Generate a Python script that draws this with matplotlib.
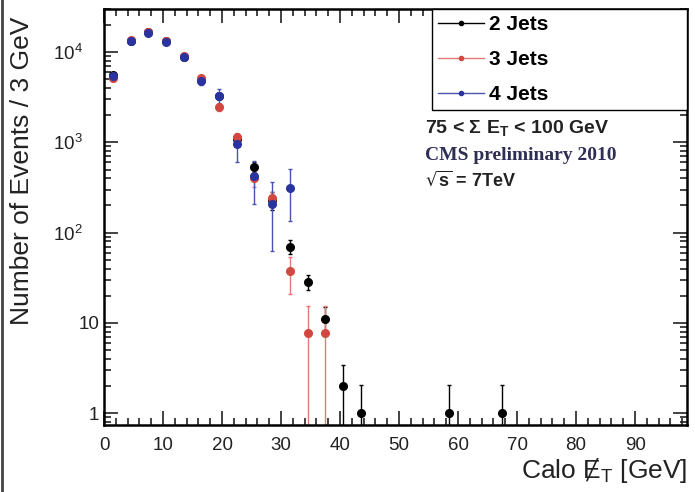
import numpy as np
import matplotlib.pyplot as plt
from matplotlib.ticker import MultipleLocator, FixedLocator, FixedFormatter, LogLocator, NullFormatter
from matplotlib.lines import Line2D

# 3 GeV bins, centres in GeV
x2 = [1.5, 4.5, 7.5, 10.5, 13.5, 16.5, 19.5, 22.5, 25.5, 28.5, 31.5, 34.5, 37.5, 40.5, 43.5, 58.5, 67.5]
y2 = [5600, 13200, 16500, 13200, 8800, 4900, 3300, 1100, 540, 230, 70, 28.5, 11, 2, 1, 1, 1]
lo2 = [300, 500, 600, 500, 400, 300, 250, 120, 70, 50, 12, 5.5, 3.5, 1.45, 0.99, 0.99, 0.99]
hi2 = [300, 500, 600, 500, 400, 300, 250, 120, 70, 50, 12, 5.5, 4.0, 1.45, 1.05, 1.05, 1.05]

x3 = [1.5, 4.5, 7.5, 10.5, 13.5, 16.5, 19.5, 22.5, 25.5, 28.5, 31.5, 34.5, 37.5]
y3 = [5100, 13500, 16500, 13200, 9000, 5100, 2450, 1150, 400, 245, 38, 7.7, 7.7]
lo3 = [300, 500, 600, 500, 400, 300, 200, 130, 80, 40, 17, 7.69, 7.69]
hi3 = [300, 500, 600, 500, 400, 300, 200, 130, 80, 40, 16, 7.5, 7.5]

x4 = [1.5, 4.5, 7.5, 10.5, 13.5, 16.5, 19.5, 22.5, 25.5, 28.5, 31.5]
y4 = [5500, 13200, 16200, 13000, 8900, 4800, 3300, 950, 420, 205, 310]
lo4 = [300, 500, 600, 500, 400, 450, 600, 350, 215, 142, 177]
hi4 = [300, 500, 600, 500, 400, 350, 600, 300, 200, 155, 200]

labels = ['2 Jets', '3 Jets', '4 Jets']
colors = ['black', '#d2473f', '#2a34a0']
ecolors = ['black', '#e07a72', '#4a54b0']

ytick_vals = [1, 10, 100, 1000, 10000]
ytick_txt = ['1', '10', r'$\mathregular{10^2}$    ', r'$\mathregular{10^3}$    ', r'$\mathregular{10^4}$    ']

plt.rcParams['font.family'] = ['Liberation Sans', 'DejaVu Sans']

fig = plt.figure(figsize=(6.95, 4.92), dpi=100)
ax = fig.add_axes([104/695, 67/492, 583/695, 416/492])

series = [(x2, y2, lo2, hi2), (x3, y3, lo3, hi3), (x4, y4, lo4, hi4)]
for (xs, ys, lo, hi), c, ec in zip(series, colors, ecolors):
    ax.errorbar(xs, ys, yerr=[lo, hi], fmt='o', color=c, ecolor=ec,
                ms=5.5, elinewidth=1.0, capsize=1.5, capthick=1.0)

ax.set_yscale('log')
ax.set_xlim(0, 98.8)
ax.set_ylim(0.74, 30000)

ax.xaxis.set_major_locator(MultipleLocator(10))
ax.xaxis.set_minor_locator(MultipleLocator(2))
ax.yaxis.set_major_locator(FixedLocator(ytick_vals))
ax.yaxis.set_major_formatter(FixedFormatter(ytick_txt))
ax.yaxis.set_minor_locator(LogLocator(base=10, subs=np.arange(2, 10)))
ax.yaxis.set_minor_formatter(NullFormatter())
ax.tick_params(which='both', direction='in', top=True, right=True, colors='#222222',
               labelsize=13.5, width=1.2)
ax.tick_params(which='major', length=10)
ax.tick_params(which='minor', length=5)
ax.tick_params(axis='x', pad=9)
for s in ax.spines.values():
    s.set_linewidth(1.8)

ax.set_ylabel('Number of Events / 3 GeV', fontsize=19, color='#222222')
ax.yaxis.set_label_coords(-0.12, 0.61)
ax.set_xlabel('Calo Ɇ$_\\mathregular{T}$ [GeV]', fontsize=19, color='#222222')
ax.xaxis.set_label_coords(1.0, -0.075)
ax.xaxis.label.set_horizontalalignment('right')

handles = [Line2D([], [], color=ec, marker='o', ms=3, mfc=c, mec=c, lw=1.0)
           for c, ec in zip(colors, ecolors)]
leg = ax.legend(handles, labels, loc='upper left', bbox_to_anchor=(0.5626, 1.0, 0.4374, 0.0),
                mode='expand', fancybox=False, framealpha=1, edgecolor='black',
                prop={'weight': 'bold', 'size': 15}, handlelength=2.2, handletextpad=0.25,
                labelspacing=0.76, borderpad=0.3, borderaxespad=0)
leg.get_frame().set_linewidth(1.0)

ax.text(0.55, 0.712, r'75 < $\mathregular{\Sigma}$ E$_\mathregular{T}$ < 100 GeV', transform=ax.transAxes,
        fontsize=14, weight='bold', color='#222222', va='center')
ax.text(0.55, 0.649, 'CMS preliminary 2010', transform=ax.transAxes,
        fontsize=14, weight='bold', family='Liberation Serif', color='#2e2e55', va='center')
ax.text(0.55, 0.589, r'$\mathregular{\sqrt{s}}$ = 7TeV', transform=ax.transAxes,
        fontsize=13, weight='bold', color='#222222', va='center')

fig.add_artist(Line2D([0.003, 0.003], [0, 1], transform=fig.transFigure, color='#444444', lw=2))

fig.savefig('out.png', dpi=100)
